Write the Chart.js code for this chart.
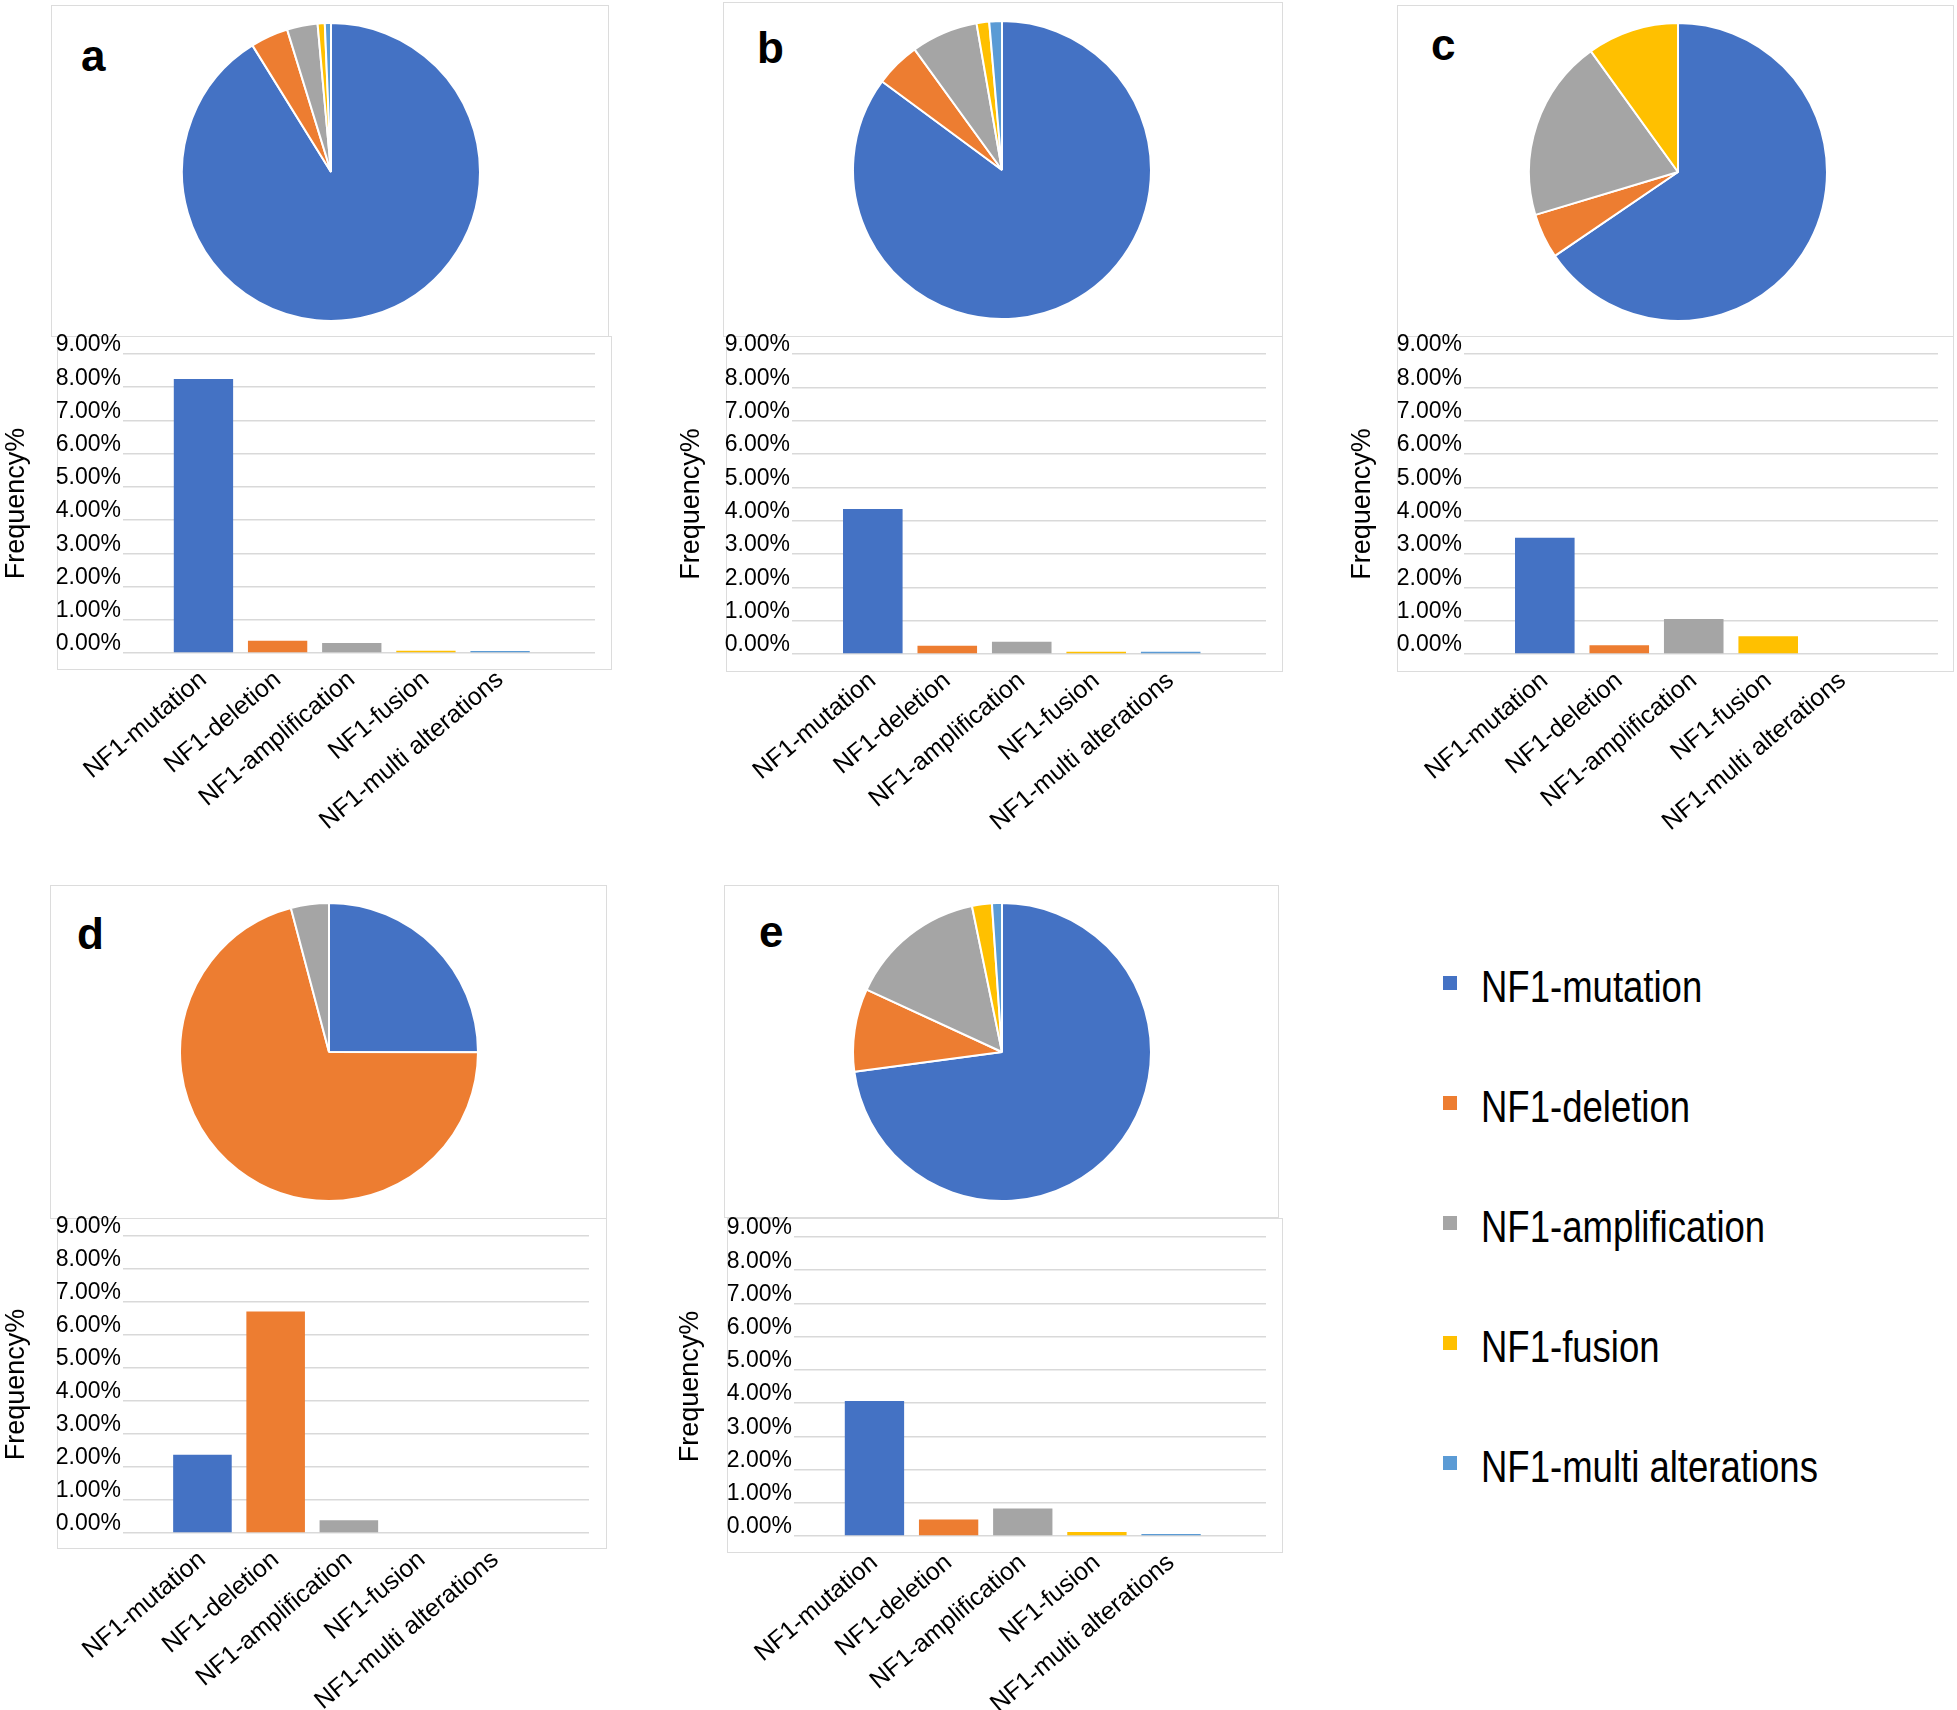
<!DOCTYPE html>
<html>
<head>
<meta charset="utf-8">
<title>NF1 alterations</title>
<script src="https://cdn.jsdelivr.net/npm/chart.js@4.4.1/dist/chart.umd.min.js"></script>
<style>
  body { margin: 0; background: #fff; font-family: 'Liberation Sans', Arial, sans-serif; }
  #fig { position: relative; width: 1957px; height: 1710px; overflow: hidden; background: #fff; }
  .box { position: absolute; border: 1.5px solid #dcdcdc; box-sizing: border-box; }
  .tag { position: absolute; font-weight: bold; font-size: 44px; line-height: 44px; color: #000; }
  .leg-row { position: absolute; left: 1443px; height: 44px; }
  .leg-sq { position: absolute; left: 0; top: 10px; width: 14px; height: 14px; }
  .leg-txt { position: absolute; left: 38px; top: 0; font-size: 44px; line-height: 41px; white-space: nowrap; color: #000;
             transform: scaleX(0.83); transform-origin: left center; }
</style>
</head>
<body>
<div id="fig"></div>
<script>
// Categorias e cores
const categories = ['NF1-mutation', 'NF1-deletion', 'NF1-amplification', 'NF1-fusion', 'NF1-multi alterations'];
const colors = ['#4472c4', '#ed7d31', '#a5a5a5', '#ffc000', '#5b9bd5'];

// Frequencia (%) por painel
const freqA = [8.25, 0.37, 0.30, 0.07, 0.06];
const freqB = [4.35, 0.25, 0.37, 0.07, 0.07];
const freqC = [3.49, 0.26, 1.05, 0.53, 0];
const freqD = [2.37, 6.71, 0.39, 0, 0];
const freqE = [4.06, 0.50, 0.83, 0.12, 0.06];

// Eixo y: 0.00% ... 9.00%
const yMin = 0;
const yMax = 9;
const yStep = 1;

Chart.defaults.font.family = "'Liberation Sans', Arial, sans-serif";
Chart.defaults.color = '#000';

// Layout de cada painel (pixels)
const panels = [
  { tag: 'a', data: freqA, tagAt: [81, 34],
    pieBox: [51, 5, 609, 337], barBox: [57, 336, 612, 670],
    pie: { cx: 331, cy: 172, r: 149 },
    bar: { left: 0, top: 318, width: 612, height: 540, gridLeft: 123, gridRight: 595, gridTop: 354, gridBottom: 653 } },
  { tag: 'b', data: freqB, tagAt: [757, 26],
    pieBox: [723, 2, 1283, 337], barBox: [726, 336, 1283, 672],
    pie: { cx: 1002, cy: 170, r: 149 },
    bar: { left: 675, top: 318, width: 608, height: 540, gridLeft: 792, gridRight: 1266, gridTop: 354, gridBottom: 654 } },
  { tag: 'c', data: freqC, tagAt: [1431, 23],
    pieBox: [1397, 5, 1954, 337], barBox: [1397, 336, 1954, 672],
    pie: { cx: 1678, cy: 172, r: 149 },
    bar: { left: 1346, top: 318, width: 608, height: 540, gridLeft: 1464, gridRight: 1938, gridTop: 354, gridBottom: 654 } },
  { tag: 'd', data: freqD, tagAt: [77, 912],
    pieBox: [50, 885, 607, 1219], barBox: [57, 1218, 607, 1549],
    pie: { cx: 329, cy: 1052, r: 149 },
    bar: { left: 0, top: 1200, width: 607, height: 510, gridLeft: 123, gridRight: 589, gridTop: 1236, gridBottom: 1533 } },
  { tag: 'e', data: freqE, tagAt: [759, 910],
    pieBox: [724, 885, 1279, 1218], barBox: [727, 1218, 1283, 1553],
    pie: { cx: 1002, cy: 1052, r: 149 },
    bar: { left: 674, top: 1200, width: 609, height: 510, gridLeft: 794, gridRight: 1266, gridTop: 1237, gridBottom: 1536 } }
];

// faixa do eixo x (em posicoes de categoria)
const xMin = -1.085;
const xMax = 5.28;

const fig = document.getElementById('fig');

function addBox(r) {
  const el = document.createElement('div');
  el.className = 'box';
  el.style.left = r[0] + 'px';
  el.style.top = r[1] + 'px';
  el.style.width = (r[2] - r[0]) + 'px';
  el.style.height = (r[3] - r[1]) + 'px';
  fig.appendChild(el);
}

function addCanvas(left, top, w, h) {
  const c = document.createElement('canvas');
  c.width = w;
  c.height = h;
  c.style.position = 'absolute';
  c.style.left = left + 'px';
  c.style.top = top + 'px';
  fig.appendChild(c);
  return c;
}

// Pizza
function drawPie(p) {
  const q = p.pie;
  const size = 2 * q.r + 2;
  const canvas = addCanvas(q.cx - size / 2, q.cy - size / 2, size, size);

  new Chart(canvas, {
    type: 'pie',
    data: {
      labels: categories,
      datasets: [{
        data: p.data,
        backgroundColor: colors,
        borderColor: '#ffffff',
        borderWidth: 2
      }]
    },
    options: {
      responsive: false,
      animation: false,
      layout: { padding: 0 },
      plugins: { legend: { display: false }, tooltip: { enabled: false } }
    }
  });
}

// Barras
function drawBars(p) {
  const b = p.bar;
  const canvas = addCanvas(b.left, b.top, b.width, b.height);

  new Chart(canvas, {
    type: 'bar',
    data: {
      datasets: [{
        data: categories.map((c, i) => ({ x: i, y: p.data[i] })),
        backgroundColor: colors,
        borderWidth: 0,
        barPercentage: 0.8,
        categoryPercentage: 1
      }]
    },
    options: {
      responsive: false,
      animation: false,
      layout: {
        padding: { top: b.gridTop - b.top, right: b.left + b.width - b.gridRight, left: 0, bottom: 0 }
      },
      plugins: { legend: { display: false }, tooltip: { enabled: false } },
      scales: {
        x: {
          type: 'linear',
          min: xMin,
          max: xMax,
          offset: false,
          grid: { display: false, drawTicks: false },
          border: { display: false },
          afterBuildTicks: s => { s.ticks = categories.map((c, i) => ({ value: i })); },
          afterFit: s => { s.height = b.top + b.height - b.gridBottom; },
          ticks: {
            autoSkip: false,
            minRotation: 40,
            maxRotation: 40,
            padding: 12,
            color: '#000',
            font: { size: 25 },
            callback: v => categories[v]
          }
        },
        y: {
          min: yMin,
          max: yMax,
          grid: { color: '#d9d9d9', lineWidth: 1.5, drawTicks: false },
          border: { display: false },
          afterFit: s => { s.width = b.gridLeft - b.left; },
          ticks: {
            stepSize: yStep,
            padding: 2,
            labelOffset: -9,
            color: '#000',
            font: { size: 23 },
            callback: v => v.toFixed(2) + '%'
          },
          title: {
            display: true,
            text: 'Frequency%',
            color: '#000',
            font: { size: 27 },
            padding: 0
          }
        }
      }
    }
  });
}

panels.forEach(p => {
  addBox(p.pieBox);
  addBox(p.barBox);
  drawPie(p);
  drawBars(p);

  const t = document.createElement('div');
  t.className = 'tag';
  t.textContent = p.tag;
  t.style.left = p.tagAt[0] + 'px';
  t.style.top = p.tagAt[1] + 'px';
  fig.appendChild(t);
});

// Legenda
categories.forEach((name, i) => {
  const row = document.createElement('div');
  row.className = 'leg-row';
  row.style.top = (966 + i * 120) + 'px';
  row.innerHTML = `<div class="leg-sq" style="background:${colors[i]}"></div><div class="leg-txt">${name}</div>`;
  fig.appendChild(row);
});
</script>
</body>
</html>
